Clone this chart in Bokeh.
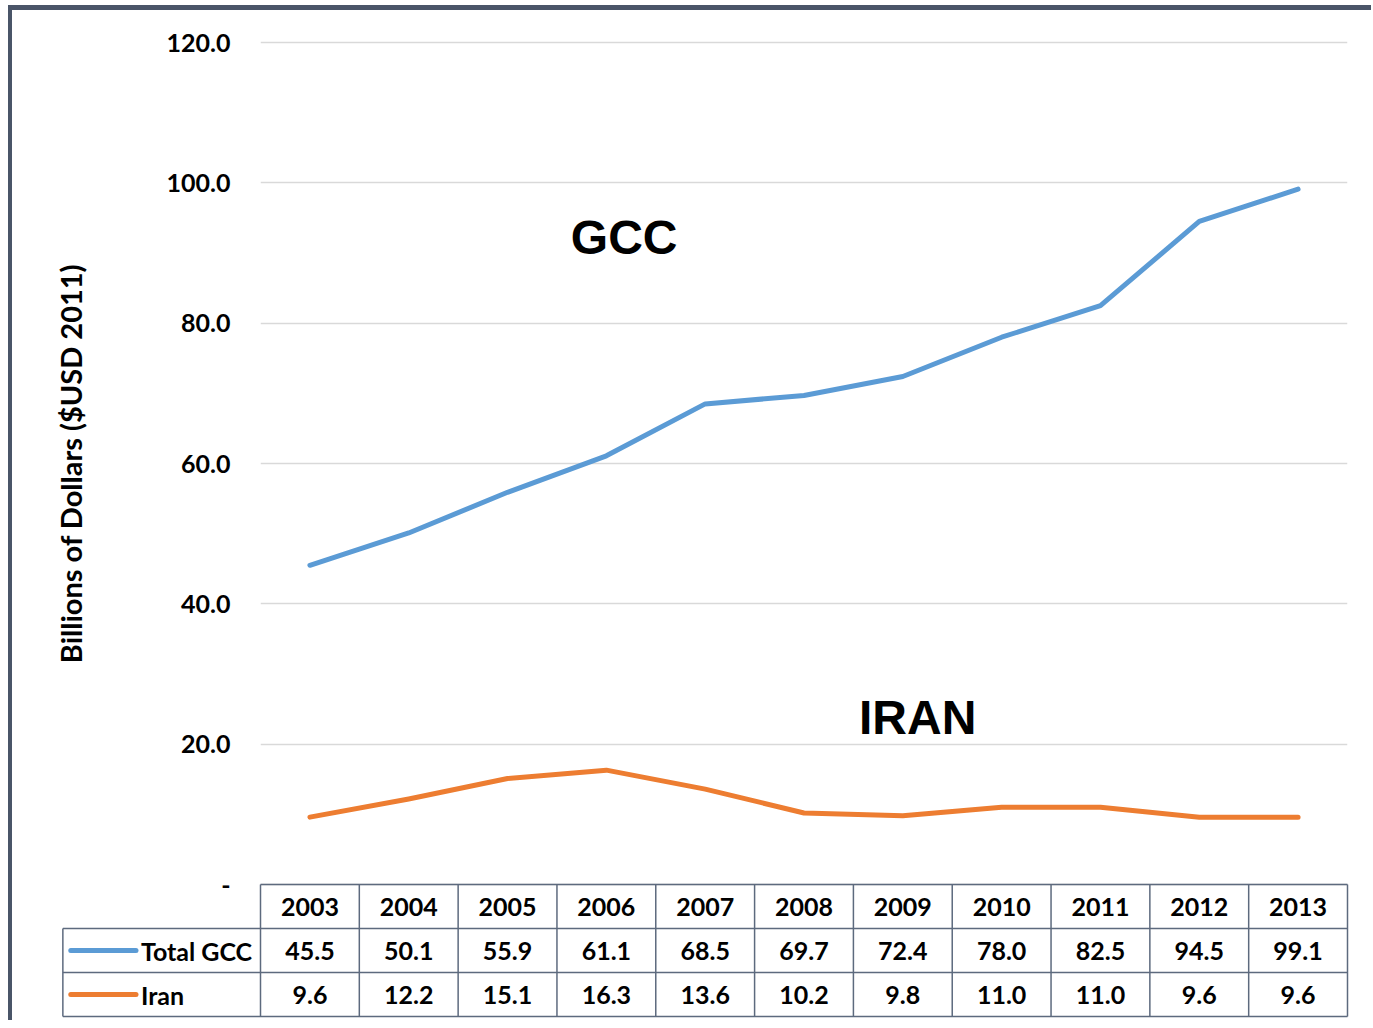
import math
from bokeh.plotting import figure
from bokeh.models import FixedTicker, CustomJSTickFormatter, Range1d
from bokeh.core.properties import value
from bokeh.embed import file_html
from bokeh.resources import INLINE

# ---- data ----
years = ["2003", "2004", "2005", "2006", "2007", "2008", "2009", "2010", "2011", "2012", "2013"]
gcc = [45.5, 50.1, 55.9, 61.1, 68.5, 69.7, 72.4, 78.0, 82.5, 94.5, 99.1]
iran = [9.6, 12.2, 15.1, 16.3, 13.6, 10.2, 9.8, 11.0, 11.0, 9.6, 9.6]
series_names = ["Total GCC", "Iran"]
series_colors = ["#5B9BD5", "#ED7D31"]
y_ticks = [0, 20, 40, 60, 80, 100, 120]
y_label = "Billions of Dollars ($USD 2011)"

# ---- layout constants ----
n = len(years)
ROW = 6.27            # table row height (data units)
LEG_W = 2.0           # legend column width (data units)
Y_TOP = 122
TEXT_FONT = value("Lato")
LINE_COLOR = "#5D6A7E"

p = figure(frame_width=1087, frame_height=988,
           x_range=Range1d(0, n), y_range=Range1d(-3 * ROW, Y_TOP),
           output_backend="svg", toolbar_location=None, x_axis_location=None,
           min_border_left=248, min_border_top=18, min_border_right=24, min_border_bottom=4)
p.styles = {"border-top": "5px solid #4A5568", "border-left": "4px solid #4A5568",
            "margin-top": "5px", "margin-left": "8px"}
p.outline_line_color = None
p.xgrid.visible = False
p.ygrid.grid_line_color = "#D9D9D9"
p.ygrid.grid_line_width = 1.5

ax = p.yaxis[0]
ax.ticker = FixedTicker(ticks=y_ticks)
ax.formatter = CustomJSTickFormatter(code="return tick == 0 ? '-' : tick.toFixed(1);")
ax.axis_line_color = None
ax.major_tick_line_color = None
ax.minor_tick_line_color = None
ax.major_tick_out = 0
ax.major_label_standoff = 30
ax.major_label_text_font = "Lato"
ax.major_label_text_font_style = "bold"
ax.major_label_text_font_size = "25px"
ax.major_label_text_color = "#000000"

# y-axis title, centred on the 0-120 value span
p.text(x=[-1.92], y=[(y_ticks[0] + y_ticks[-1]) / 2], text=[y_label], angle=math.pi / 2,
       text_font=TEXT_FONT, text_font_style="bold", text_font_size="29px",
       text_align="center", text_baseline="middle", text_color="#000000", level="overlay")

xs = [i + 0.5 for i in range(n)]
for vals, col in zip([gcc, iran], series_colors):
    p.line(xs, vals, line_color=col, line_width=5, line_join="round", line_cap="round")

# chart annotations
p.text(x=[3.68], y=[92.2], text=["GCC"], text_font=value("Liberation Sans"), text_font_style="bold",
       text_font_size="48px", text_align="center", text_baseline="middle", text_color="#000000")
p.text(x=[6.65], y=[23.8], text=["IRAN"], text_font=value("Liberation Sans"), text_font_style="bold",
       text_font_size="48px", text_align="center", text_baseline="middle", text_color="#000000")

# ---- data table ----
hx0 = [0, -LEG_W, -LEG_W, -LEG_W]
hx1 = [n, n, n, n]
hy = [0, -ROW, -2 * ROW, -3 * ROW]
p.segment(x0=hx0, y0=hy, x1=hx1, y1=hy, line_color=LINE_COLOR, line_width=1.5, level="overlay")
vx = list(range(n + 1)) + [-LEG_W]
vy0 = [0] * (n + 1) + [-ROW]
vy1 = [-3 * ROW] * (n + 2)
p.segment(x0=vx, y0=vy0, x1=vx, y1=vy1, line_color=LINE_COLOR, line_width=1.5, level="overlay")

p.text(x=xs, y=[-ROW / 2] * n, text=years, text_font=TEXT_FONT, text_font_style="bold",
       text_font_size="25px", text_align="center", text_baseline="middle", text_color="#000000",
       level="overlay")
for r, vals in enumerate([gcc, iran]):
    yc = -(r + 1.5) * ROW
    p.text(x=xs, y=[yc] * n, text=["%.1f" % v for v in vals], text_font=TEXT_FONT,
           text_font_style="bold", text_font_size="25px", text_align="center",
           text_baseline="middle", text_color="#000000", level="overlay")

leg_y = [-(r + 1.5) * ROW for r in range(len(series_names))]
p.segment(x0=[-LEG_W + 0.08] * 2, y0=leg_y, x1=[-1.26] * 2, y1=leg_y, line_color=series_colors,
          line_width=5, line_cap="round", level="overlay")
p.text(x=[-1.21] * 2, y=leg_y, text=series_names, text_font=TEXT_FONT, text_font_style="bold",
       text_font_size="25px", text_align="left", text_baseline="middle", text_color="#000000",
       level="overlay")

open("out.html", "w").write(file_html(p, INLINE))
